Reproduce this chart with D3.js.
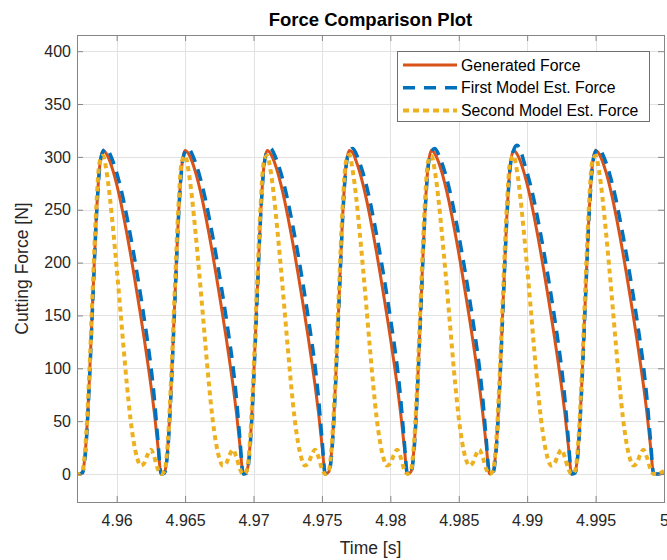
<!DOCTYPE html>
<html>
<head>
<meta charset="utf-8">
<script src="https://cdn.jsdelivr.net/npm/d3@7"></script>
<style>
  html, body { margin: 0; padding: 0; background: #fff; }
  svg { display: block; font-family: "Liberation Sans", Arial, Helvetica, sans-serif; }
</style>
</head>
<body>
<svg id="chart" width="667" height="560"></svg>
<script>
// Sampling grid of the recorded signals (seconds)
const timeStart = 4.957;
const timeStep = 0.00025;

// Generated cutting force [N], one value per sample
const generatedForce = [
  0,
  0,2,28,88,165,240,290,306,303,296,286,274,260,244,227,209,190,170,150,129,107,84,58,28,
  0,2,28,88,165,240,290,306,303,296,286,274,260,244,227,209,190,170,150,129,107,84,58,28,
  0,2,28,88,165,240,290,306,303,296,286,274,260,244,227,209,190,170,150,129,107,84,58,28,
  0,2,28,88,165,240,290,306,304,296,286,274,260,244,227,209,190,170,150,129,107,84,58,28,
  0,2,28,88,165,240,290,306,303,296,286,274,260,244,227,209,190,170,150,129,107,84,58,28,
  0,2,28,88,165,240,290,306,303,296,286,274,260,244,227,209,190,170,150,129,107,84,58,28,
  0,2,28,88,165,240,290,306,303,296,286,274,260,244,227,209,190,170,150,129,107,84,58,28,
  0,0,0,2
];

// First model estimate [N]
const firstModelForce = [
  0,
  0,1,25,85,162,238,289,305,308,303,295,285,273,259,243,226,208,189,169,148,126,102,72,34,
  0,1,25,85,162,238,289,305,308,303,295,285,273,259,243,226,208,189,169,148,126,102,72,34,
  0,1,25,85,162,238,289,305,308,303,295,285,273,259,243,226,208,189,169,148,126,102,72,34,
  0,1,25,85,162,238,289,305,308,303,295,285,273,259,243,226,208,189,169,148,126,102,72,34,
  0,1,25,85,162,238,289,305,308,303,295,285,273,259,243,226,208,189,169,148,126,102,72,34,
  0,1,25,85,162,238,289,306,311,307,296,285,273,259,243,226,208,189,169,148,126,102,72,34,
  0,1,25,85,162,238,289,305,308,303,295,285,273,259,243,226,208,189,169,148,126,102,72,34,
  0,0,0,1
];

// Second model estimate [N]
const secondModelForce = [
  0,
  0,3,33,96,176,250,295,301,287,262,230,195,158,120,84,53,30,15,8,10,18,23,16,5,
  0,3,33,96,176,250,295,301,287,262,230,195,158,120,84,53,30,15,8,10,18,23,16,5,
  0,3,33,96,176,250,295,301,287,262,230,195,158,120,84,53,30,15,8,10,18,23,16,5,
  0,3,33,96,176,250,295,302,287,262,230,195,158,120,84,53,30,15,8,10,18,23,16,5,
  0,3,33,96,176,250,295,301,287,262,230,195,158,120,84,53,30,15,8,10,18,23,16,5,
  0,3,33,96,176,250,295,301,287,262,230,195,158,120,84,53,30,15,8,10,18,23,16,5,
  0,3,33,96,176,250,295,301,287,262,230,195,158,120,84,53,30,15,8,10,18,23,16,5,
  0,0,1,3
];

const seriesNames = ["Generated Force", "First Model Est. Force", "Second Model Est. Force"];
const seriesColors = ["#D95319", "#0072BD", "#EDB120"];

const xTicks = [4.96, 4.965, 4.97, 4.975, 4.98, 4.985, 4.99, 4.995, 5];
const xTickLabels = ["4.96", "4.965", "4.97", "4.975", "4.98", "4.985", "4.99", "4.995", "5"];
const yTicks = [0, 50, 100, 150, 200, 250, 300, 350, 400];
const yTickLabels = ["0", "50", "100", "150", "200", "250", "300", "350", "400"];

const plot = { left: 77, right: 664, top: 35, bottom: 502 };

const svg = d3.select("#chart");
svg.append("rect").attr("width", 667).attr("height", 560).attr("fill", "#fff");

const x = d3.scaleLinear().domain([4.9571, 5.0]).range([plot.left, plot.right]);
const y = d3.scaleLinear().domain([-26.5, 415.3]).range([plot.bottom, plot.top]);

const times = generatedForce.map((_, i) => timeStart + i * timeStep);

// grid lines
const grid = svg.append("g").attr("stroke", "#e2e2e2").attr("stroke-width", 1);
xTicks.forEach(t => {
  grid.append("line")
    .attr("x1", Math.round(x(t)) + 0.5).attr("x2", Math.round(x(t)) + 0.5)
    .attr("y1", plot.top).attr("y2", plot.bottom);
});
yTicks.forEach(v => {
  grid.append("line")
    .attr("y1", Math.round(y(v)) + 0.5).attr("y2", Math.round(y(v)) + 0.5)
    .attr("x1", plot.left).attr("x2", plot.right);
});

// data lines
svg.append("clipPath").attr("id", "plotClip")
  .append("rect")
  .attr("x", plot.left).attr("y", plot.top)
  .attr("width", plot.right - plot.left).attr("height", plot.bottom - plot.top);

const line = d3.line()
  .x((d, i) => x(times[i]))
  .y(d => y(d))
  .curve(d3.curveMonotoneX);

const lines = svg.append("g").attr("clip-path", "url(#plotClip)").attr("fill", "none");
lines.append("path").datum(generatedForce)
  .attr("d", line).attr("stroke", seriesColors[0]).attr("stroke-width", 3)
  .attr("stroke-linejoin", "round");
lines.append("path").datum(firstModelForce)
  .attr("d", line).attr("stroke", seriesColors[1]).attr("stroke-width", 3.5)
  .attr("stroke-dasharray", "12,8");
lines.append("path").datum(secondModelForce)
  .attr("d", line).attr("stroke", seriesColors[2]).attr("stroke-width", 4)
  .attr("stroke-dasharray", "5,4");

// axes: ticks pointing inward on all four sides
const axisColor = "#868686";
function styleAxis(g) {
  g.select(".domain").remove();
  g.selectAll(".tick line").attr("stroke", axisColor);
  g.selectAll(".tick text").attr("fill", "#262626").style("font-size", "16px");
}
svg.append("g").attr("transform", `translate(0,${plot.bottom})`)
  .call(d3.axisBottom(x).tickValues(xTicks).tickFormat((d, i) => xTickLabels[i])
    .tickSize(-6).tickSizeOuter(0).tickPadding(13))
  .call(styleAxis);
svg.append("g").attr("transform", `translate(0,${plot.top})`)
  .call(d3.axisTop(x).tickValues(xTicks).tickFormat("").tickSize(-6).tickSizeOuter(0))
  .call(styleAxis);
svg.append("g").attr("transform", `translate(${plot.left},0)`)
  .call(d3.axisLeft(y).tickValues(yTicks).tickFormat((d, i) => yTickLabels[i])
    .tickSize(-6).tickSizeOuter(0).tickPadding(6))
  .call(styleAxis);
svg.append("g").attr("transform", `translate(${plot.right},0)`)
  .call(d3.axisRight(y).tickValues(yTicks).tickFormat("").tickSize(-6).tickSizeOuter(0))
  .call(styleAxis);

// frame
svg.append("rect")
  .attr("x", plot.left + 0.5).attr("y", plot.top + 0.5)
  .attr("width", plot.right - plot.left).attr("height", plot.bottom - plot.top)
  .attr("fill", "none").attr("stroke", axisColor).attr("stroke-width", 1);

// title and axis labels
svg.append("text")
  .attr("x", (plot.left + plot.right) / 2).attr("y", 26)
  .attr("text-anchor", "middle").attr("font-weight", "bold")
  .style("font-size", "18.5px").attr("fill", "#000")
  .text("Force Comparison Plot");
svg.append("text")
  .attr("x", (plot.left + plot.right) / 2).attr("y", 554)
  .attr("text-anchor", "middle").style("font-size", "17.5px").attr("fill", "#262626")
  .text("Time [s]");
svg.append("text")
  .attr("transform", `translate(28,${(plot.top + plot.bottom) / 2}) rotate(-90)`)
  .attr("text-anchor", "middle").style("font-size", "17.5px").attr("fill", "#262626")
  .text("Cutting Force [N]");

// legend
const legend = svg.append("g");
legend.append("rect")
  .attr("x", 397.5).attr("y", 51.5).attr("width", 252).attr("height", 70)
  .attr("fill", "#fff").attr("stroke", "#707070").attr("stroke-width", 1);
const legendStyles = [
  { w: 3, dash: null },
  { w: 3.5, dash: "12,9" },
  { w: 4, dash: "6,4" }
];
seriesNames.forEach((name, i) => {
  const ly = 65 + i * 22.7;
  const l = legend.append("line")
    .attr("x1", 403).attr("x2", 457).attr("y1", ly).attr("y2", ly)
    .attr("stroke", seriesColors[i]).attr("stroke-width", legendStyles[i].w);
  if (legendStyles[i].dash) l.attr("stroke-dasharray", legendStyles[i].dash);
  legend.append("text")
    .attr("x", 461).attr("y", ly).attr("dy", "0.35em")
    .style("font-size", "15.8px").attr("fill", "#000")
    .text(name);
});
</script>
</body>
</html>
